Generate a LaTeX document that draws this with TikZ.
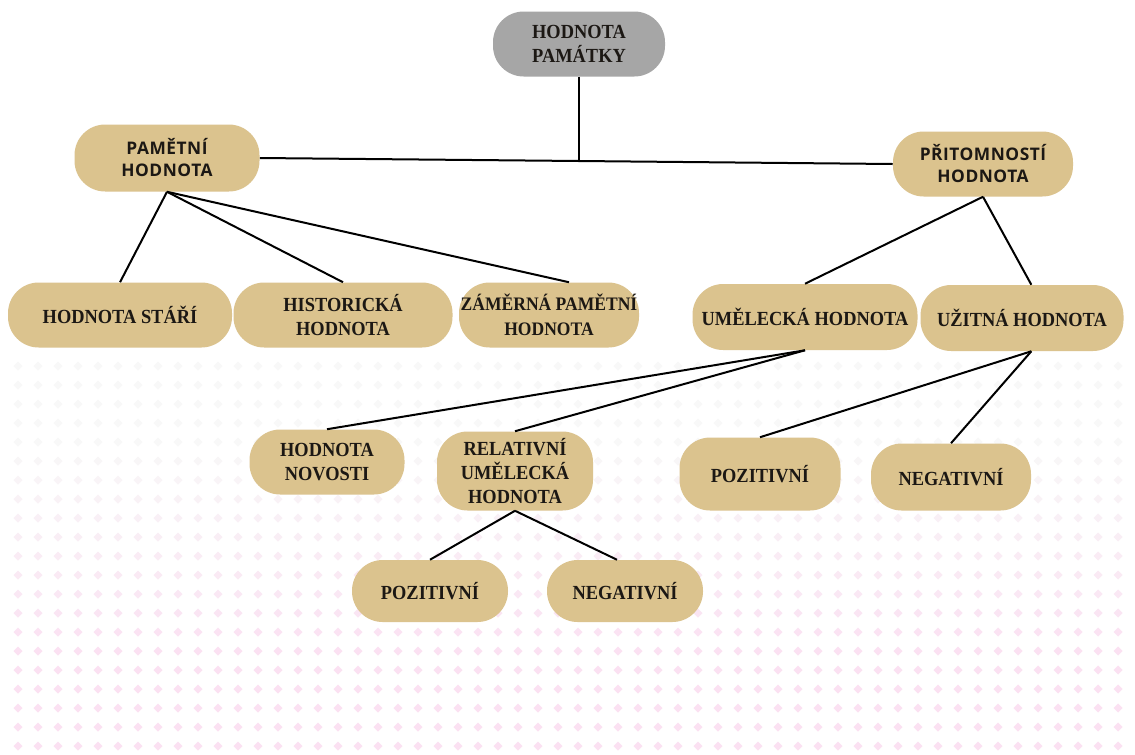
\documentclass[tikz,border=0pt]{standalone}
\usepackage{fontspec}
\setmainfont{Liberation Serif}
\newfontfamily\tallserif{Liberation Serif}[FakeStretch=0.92]
\newfontfamily\opensansfont{Open Sans}[LetterSpace=3]
\definecolor{beige}{HTML}{DBC38E}
\definecolor{grayn}{HTML}{A6A6A6}
\definecolor{dotgray}{HTML}{F8F8F8}
\definecolor{dotpink}{HTML}{FBE1F2}
\definecolor{txt}{HTML}{1C1814}
\begin{document}
\begin{tikzpicture}[x=0.75pt,y=-0.75pt,
  box/.style={rectangle, rounded corners=23pt, fill=beige, text=txt, align=center, inner sep=1pt,
    font=\tallserif\fontsize{15}{18.5}\selectfont\bfseries},
  sbox/.style={box, font=\opensansfont\fontsize{13}{16.5}\selectfont\bfseries},
  wh/.style 2 args={minimum width=#1*0.75pt, minimum height=#2*0.75pt},
  link/.style={line width=1.5pt, black}]
\useasboundingbox (0,0) rectangle (1135,754);
\fill[white] (0,0) rectangle (1135,754);
% background dots
\foreach \r in {0,...,20}{
  \pgfmathtruncatemacro\p{min(100,max(0,(\r-4)*9))}
  \foreach \c in {0,...,55}{
    \fill[dotpink!\p!dotgray] (18+20*\c,366+19*\r) +(0,-4.5) -- +(4.5,0) -- +(0,4.5) -- +(-4.5,0) -- cycle;
  }
}
% nodes
\node[box, fill=grayn, wh={172}{65}] (top) at (579,44) {HODNOTA\\PAMÁTKY};
\node[sbox, wh={185}{67}] (pam) at (167,158) {PAMĚTNÍ\\HODNOTA};
\node[sbox, wh={180}{65}] (prit) at (983,164) {PŘITOMNOSTÍ\\HODNOTA};
\node[box, wh={224}{65}] (stari) at (120,315) {HODNOTA STÁŘÍ};
\node[box, wh={219}{65}] (hist) at (343,315) {HISTORICKÁ\\HODNOTA};
\node[box, wh={180}{65}, font=\tallserif\fontsize{14.3}{18.5}\selectfont\bfseries] (zam) at (549,315) {ZÁMĚRNÁ PAMĚTNÍ\\HODNOTA};
\node[box, wh={225}{66}] (umel) at (805,317) {UMĚLECKÁ HODNOTA};
\node[box, wh={203}{66}] (uzit) at (1022,318) {UŽITNÁ HODNOTA};
\node[box, wh={155}{65}] (novo) at (327,462) {HODNOTA\\NOVOSTI};
\node[box, wh={156}{79}, font=\tallserif\fontsize{15}{18}\selectfont\bfseries] (rel) at (515,471) {RELATIVNÍ\\UMĚLECKÁ\\HODNOTA};
\node[box, wh={156}{62}] (pozL) at (430,591) {POZITIVNÍ};
\node[box, wh={156}{62}] (negL) at (625,591) {NEGATIVNÍ};
\node[box, wh={161}{73}] (pozR) at (760,474) {POZITIVNÍ};
\node[box, wh={160}{67}] (negR) at (951,477) {NEGATIVNÍ};
% connectors
\coordinate (j) at (579,161);
\draw[link] (pam.east) -- (j) -- (prit.west);
\draw[link] (top.south) -- (j);
\draw[link] (pam.south) -- (stari.north);
\draw[link] (pam.south) -- (hist.north);
\draw[link] (pam.south) -- ([xshift=15pt]zam.north);
\draw[link] (prit.south) -- (umel.north);
\draw[link] (prit.south) -- ([xshift=7pt]uzit.north);
\draw[link] (umel.south) -- (novo.north);
\draw[link] (umel.south) -- (rel.north);
\draw[link] (rel.south) -- (pozL.north);
\draw[link] (rel.south) -- ([xshift=-6pt]negL.north);
\draw[link] ([xshift=7pt]uzit.south) -- (pozR.north);
\draw[link] ([xshift=7pt]uzit.south) -- (negR.north);
\end{tikzpicture}
\end{document}
